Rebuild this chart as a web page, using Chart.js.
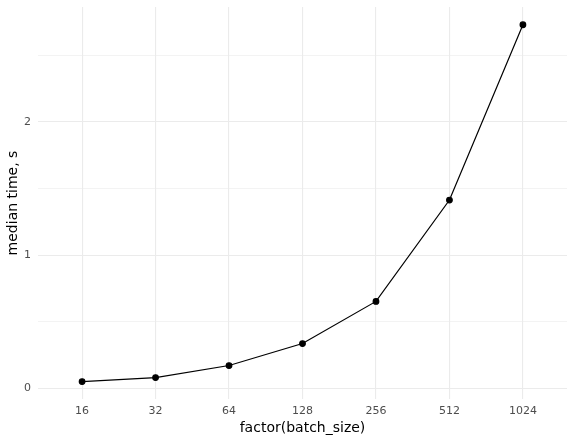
<!DOCTYPE html>
<html>
<head>
<meta charset="utf-8">
<script src="https://cdn.jsdelivr.net/npm/chart.js@4"></script>
<style>
  html, body { margin: 0; padding: 0; background: #fff; }
  #wrap { width: 575px; height: 442px; }
</style>
</head>
<body>
<div id="wrap"><canvas id="timeChart" width="575" height="442"></canvas></div>
<script>
var batchSizes = ['16', '32', '64', '128', '256', '512', '1024'];
var medianTime = [0.053, 0.083, 0.173, 0.338, 0.654, 1.414, 2.729];
var yTicks = [0, 0.5, 1, 1.5, 2, 2.5];

document.addEventListener('DOMContentLoaded', function () {
    var ctx = document.getElementById('timeChart').getContext('2d');
    var points = medianTime.map(function (v, i) { return { x: i, y: v }; });

    new Chart(ctx, {
        type: 'line',
        data: {
            datasets: [{
                data: points,
                borderColor: '#000',
                backgroundColor: '#000',
                borderWidth: 1.2,
                pointRadius: 2.8,
                pointHoverRadius: 2.8,
                tension: 0
            }]
        },
        options: {
            responsive: false,
            animation: false,
            layout: { padding: { top: 7, right: 8, left: 0, bottom: 0 } },
            plugins: { legend: { display: false }, tooltip: { enabled: false } },
            scales: {
                x: {
                    type: 'linear',
                    min: -0.6,
                    max: batchSizes.length - 1 + 0.6,
                    afterBuildTicks: function (scale) {
                        scale.ticks = batchSizes.map(function (s, i) { return { value: i }; });
                    },
                    afterFit: function (scale) {
                        scale.height = 43;
                        scale.paddingLeft = 0;
                        scale.paddingRight = 0;
                    },
                    border: { display: false },
                    grid: { color: '#ebebeb', lineWidth: 1.1, drawTicks: false },
                    ticks: {
                        color: '#4d4d4d',
                        font: { family: 'DejaVu Sans', size: 11 },
                        padding: 6,
                        maxRotation: 0,
                        callback: function (v) { return batchSizes[v]; }
                    },
                    title: {
                        display: true,
                        text: 'factor(batch_size)',
                        color: '#000',
                        font: { family: 'DejaVu Sans', size: 14 },
                        padding: { top: 0, bottom: 5 }
                    }
                },
                y: {
                    min: -0.078,
                    max: 2.862,
                    afterBuildTicks: function (scale) {
                        scale.ticks = yTicks.map(function (v) { return { value: v }; });
                    },
                    afterFit: function (scale) {
                        scale.width = 38;
                        scale.paddingTop = 0;
                        scale.paddingBottom = 0;
                    },
                    border: { display: false },
                    grid: {
                        color: '#ebebeb',
                        drawTicks: false,
                        lineWidth: function (c) {
                            return (c.tick && c.tick.value % 1 === 0) ? 1.1 : 0.6;
                        }
                    },
                    ticks: {
                        color: '#4d4d4d',
                        font: { family: 'DejaVu Sans', size: 11 },
                        padding: 7,
                        callback: function (v) { return v % 1 === 0 ? String(v) : ''; }
                    },
                    title: {
                        display: true,
                        text: 'median time, s',
                        color: '#000',
                        font: { family: 'DejaVu Sans', size: 14 },
                        padding: { top: 5, bottom: 0 }
                    }
                }
            }
        }
    });
});
</script>
</body>
</html>
